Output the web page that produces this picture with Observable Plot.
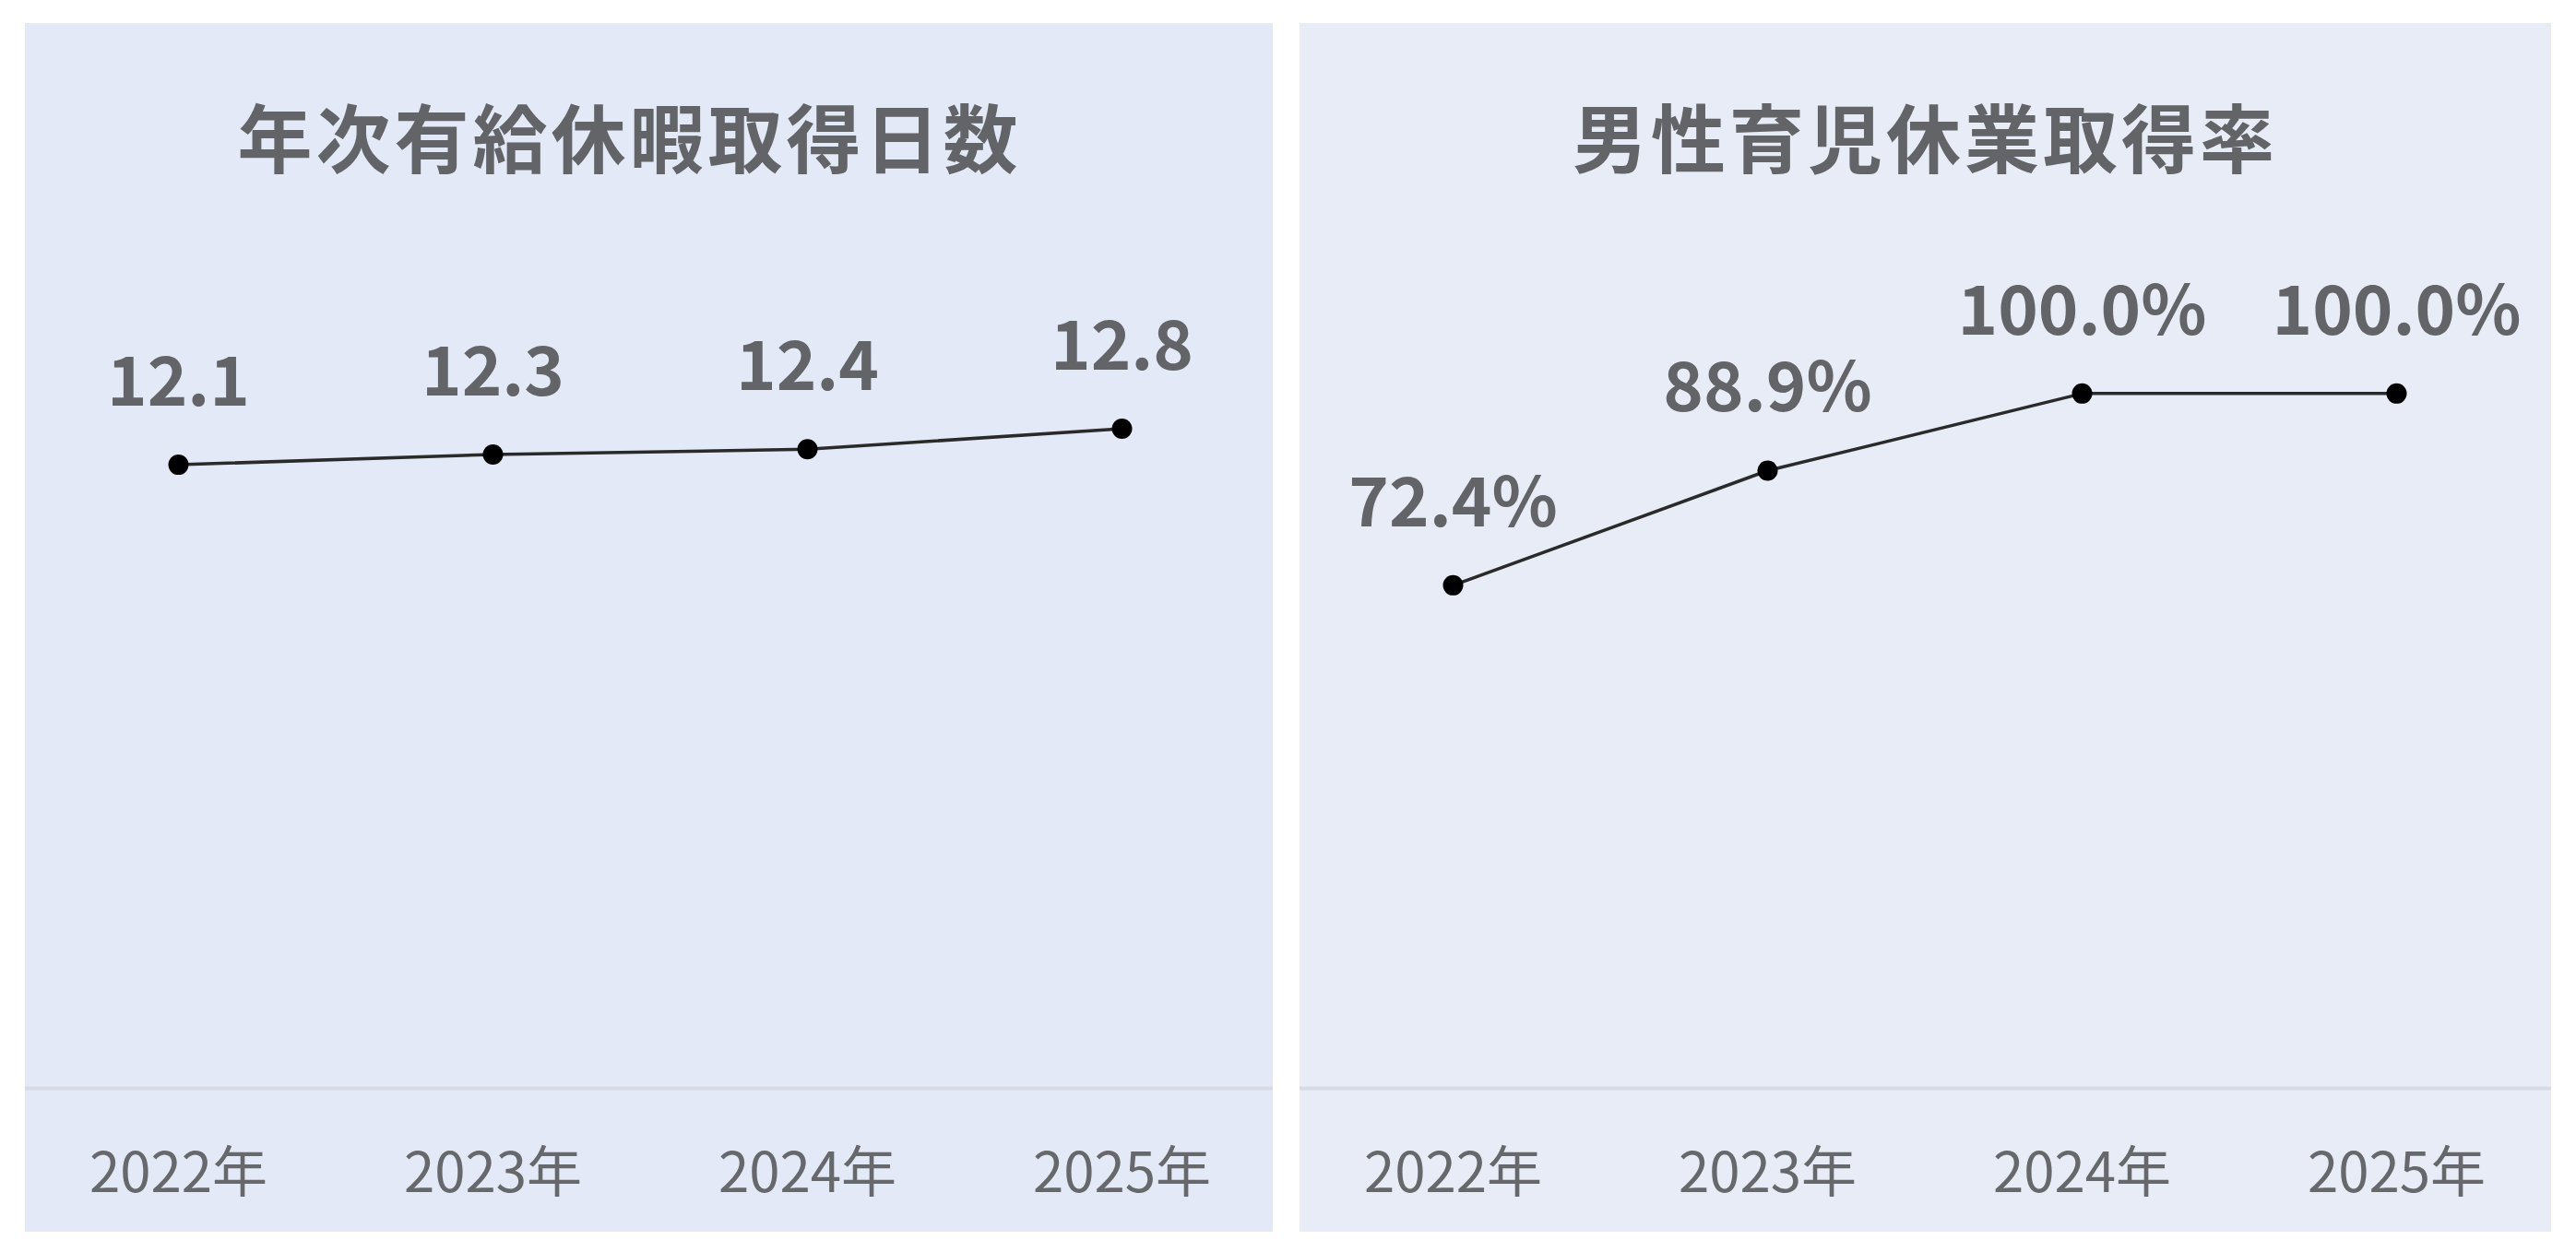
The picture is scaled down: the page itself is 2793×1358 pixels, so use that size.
<!DOCTYPE html>
<html><head><meta charset="utf-8">
<script src="https://cdn.jsdelivr.net/npm/d3@7"></script>
<script src="https://cdn.jsdelivr.net/npm/@observablehq/plot@0.6"></script>
<style>
html,body{margin:0;padding:0;background:#fff;width:2793px;height:1358px;overflow:hidden;font-family:"Noto Sans CJK JP","Noto Sans",sans-serif;}
.panel{position:absolute;top:25px;height:1311px;}
.title{position:absolute;left:0;right:0;top:80px;text-align:center;font-size:81px;line-height:1;font-weight:700;color:#626468;letter-spacing:4px;}
.chart{position:absolute;left:0;top:230px;}
</style></head>
<body>
<div id="p1" class="panel" style="left:27px;width:1353px;background:#E3E9F6;"><div class="title" style="transform:translateX(-21px)"></div><div class="chart"></div></div>
<div id="p2" class="panel" style="left:1409px;width:1357px;background:#E8ECF7;"><div class="title"></div><div class="chart"></div></div>
<script>
const years = ["2022年", "2023年", "2024年", "2025年"];
const leaveDays = [12.1, 12.3, 12.4, 12.8];
const paternityRate = [72.4, 88.9, 100.0, 100.0];
const titles = ["年次有給休暇取得日数", "男性育児休業取得率"];

function panel(id, title, values, fmt, yMax, width) {
  const el = document.getElementById(id);
  el.querySelector(".title").textContent = title;
  const data = years.map((y, i) => ({year: y, value: values[i]}));
  const H = 1081;
  const chart = Plot.plot({
    width, height: H,
    marginLeft: 0, marginRight: 0, marginTop: 96, marginBottom: 156,
    style: {background: "transparent", fontFamily: '"Noto Sans CJK JP", sans-serif', overflow: "visible"},
    x: {type: "point", domain: years, range: [165, 1189], padding: 0, label: null},
    y: {domain: [0, yMax], axis: null},
    marks: [
      Plot.ruleY([0], {stroke: "#d6dae3", strokeWidth: 4}),
      Plot.axisX({tickSize: 0, tickPadding: 70, fontSize: 60, fill: "#66686c", label: null}),
      Plot.line(data, {x: "year", y: "value", stroke: "#2a2a2a", strokeWidth: 3.5}),
      Plot.dot(data, {x: "year", y: "value", r: 11, fill: "#000", stroke: "none"}),
      Plot.text(data, {x: "year", y: "value", text: d => fmt(d.value), dy: -88, fontSize: 74, fontWeight: 700, fill: "#626468"})
    ]
  });
  el.querySelector(".chart").appendChild(chart);
}
panel("p1", titles[0], leaveDays, v => v.toFixed(1), 14.83, 1353);
panel("p2", titles[1], paternityRate, v => v.toFixed(1) + "%", 110, 1357);
</script>
</body></html>
